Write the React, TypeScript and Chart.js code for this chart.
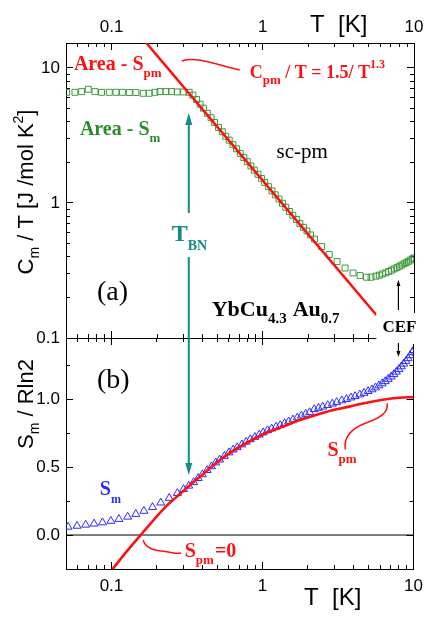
import React, { useEffect, useRef } from 'react';
import { Chart, registerables } from 'chart.js';

Chart.register(...registerables);

const SANS = '"Liberation Sans", Arial, sans-serif';
const SERIF = '"Liberation Serif", "Times New Roman", serif';
const RED = '#ff1010';
const GREEN = '#3c9a3c';
const GREEN_TEXT = '#2c8c2c';
const BLUE = '#2a2aff';
const TEAL = '#12898b';

const T_MIN = 0.05;
const T_MAX = 10;
const C_MIN = 0.1;
const C_MAX = 15.3;
const S_MIN = -0.25;
const S_MAX = 1.45;

// tick values / labels
const tempMajorTicks = [0.1, 1, 10];
const tempMajorLabels = ['0.1', '1', '10'];
const tempMinorTicks = [0.05, 0.06, 0.07, 0.08, 0.09, 0.2, 0.3, 0.4, 0.5, 0.6, 0.7, 0.8, 0.9, 2, 3, 4, 5, 6, 7, 8, 9];
const cMajorTicks = [0.1, 1, 10];
const cMajorLabels = ['0.1', '1', '10'];
const cMinorTicks = [0.2, 0.3, 0.4, 0.5, 0.6, 0.7, 0.8, 0.9, 2, 3, 4, 5, 6, 7, 8, 9];
const sMajorTicks = [0, 0.5, 1];
const sMajorLabels = ['0.0', '0.5', '1.0'];
const sMinorTicks = [-0.25, 0.25, 0.75, 1.25];

// panel (a): Cm/T (green squares)
const plateauT = [0.0505, 0.0573, 0.0634, 0.0702, 0.0777, 0.086, 0.0966, 0.107, 0.118, 0.131, 0.145, 0.162, 0.1775, 0.1936, 0.209, 0.229, 0.2495, 0.2718, 0.2978, 0.326];
const plateauC = [6.6, 6.6, 6.68, 6.95, 6.68, 6.6, 6.6, 6.6, 6.6, 6.57, 6.57, 6.49, 6.49, 6.6, 6.68, 6.68, 6.68, 6.64, 6.64, 6.6];
const slopeT = [0.345, 0.365, 0.385, 0.405, 0.43, 0.455, 0.48, 0.51, 0.54, 0.57, 0.6, 0.635, 0.67, 0.71, 0.75, 0.79, 0.835, 0.88, 0.93, 0.98, 1.03, 1.09, 1.15, 1.21, 1.28, 1.35, 1.42, 1.5, 1.58, 1.67, 1.76, 1.86, 1.96, 2.07];
const slopeC = [6.29, 5.84, 5.39, 5.04, 4.61, 4.28, 3.95, 3.62, 3.37, 3.12, 2.92, 2.7, 2.52, 2.33, 2.17, 2.02, 1.88, 1.75, 1.63, 1.52, 1.42, 1.32, 1.23, 1.15, 1.07, 0.995, 0.93, 0.865, 0.81, 0.755, 0.705, 0.66, 0.62, 0.58];
const tailT = [2.2, 2.45, 2.75, 3.1, 3.5, 3.95, 4.4, 4.85, 5.2, 5.6, 5.9, 6.2, 6.5, 6.8, 7.1, 7.4, 7.7, 8.0, 8.3, 8.6, 8.9, 9.2, 9.5, 9.8, 10.0];
const tailC = [0.54, 0.475, 0.415, 0.368, 0.33, 0.303, 0.29, 0.282, 0.282, 0.287, 0.292, 0.298, 0.304, 0.311, 0.318, 0.325, 0.332, 0.34, 0.347, 0.355, 0.362, 0.37, 0.378, 0.386, 0.392];
// power-law fit line Cpm/T (end points)
const fitT = [0.17, 5.64];
const fitC = [15.3, 0.148];

// panel (b): Sm/Rln2 (blue triangles)
const smLowT = [0.0516, 0.0592, 0.0675, 0.0767, 0.0872, 0.0991, 0.112, 0.128, 0.145, 0.164, 0.187, 0.212, 0.241, 0.273, 0.3, 0.325];
const smLowS = [0.06, 0.067, 0.075, 0.083, 0.092, 0.103, 0.117, 0.134, 0.154, 0.177, 0.205, 0.238, 0.272, 0.308, 0.337, 0.362];
const smMidT = [0.35, 0.375, 0.4, 0.43, 0.46, 0.49, 0.52, 0.56, 0.6, 0.64, 0.68, 0.73, 0.78, 0.83, 0.89, 0.95, 1.01, 1.08, 1.15, 1.23, 1.31, 1.4, 1.49, 1.59, 1.7, 1.81, 1.93, 2.05];
const smMidS = [0.388, 0.418, 0.446, 0.477, 0.505, 0.533, 0.554, 0.581, 0.607, 0.628, 0.645, 0.666, 0.686, 0.704, 0.721, 0.738, 0.754, 0.77, 0.783, 0.796, 0.808, 0.822, 0.835, 0.849, 0.864, 0.878, 0.891, 0.903];
const smHighT = [2.2, 2.35, 2.5, 2.7, 2.9, 3.1, 3.35, 3.6, 3.85, 4.1, 4.4, 4.7, 5.0, 5.3, 5.6, 5.9, 6.2, 6.5, 6.8, 7.1, 7.4, 7.7, 8.0, 8.3, 8.6, 8.9, 9.2, 9.5, 9.8, 10.0];
const smHighS = [0.925, 0.935, 0.944, 0.955, 0.966, 0.977, 0.99, 1.0, 1.011, 1.021, 1.033, 1.045, 1.058, 1.071, 1.085, 1.1, 1.115, 1.131, 1.148, 1.165, 1.183, 1.201, 1.22, 1.24, 1.26, 1.28, 1.3, 1.322, 1.344, 1.36];
// Spm/Rln2 (red curve)
const spmT = [0.1, 0.125, 0.156, 0.19, 0.229, 0.27, 0.322, 0.4, 0.491, 0.63, 0.816, 1.05, 1.36, 1.75, 2.26, 2.9, 3.76, 4.8, 6.24, 8.0, 10];
const spmS = [-0.262, -0.126, 0.0, 0.11, 0.209, 0.281, 0.356, 0.444, 0.528, 0.615, 0.688, 0.751, 0.798, 0.844, 0.884, 0.918, 0.945, 0.972, 0.995, 1.01, 1.015];
const zeroT = [0.05, 10];
const zeroS = [0, 0];

type Seg = { t: string; size: number; dy?: number; dx?: number; bold?: boolean };

function segFont(s: Seg, family: string, bold: boolean) {
  const b = s.bold === undefined ? bold : s.bold;
  return `${b ? 'bold ' : ''}${s.size}px ${family}`;
}
function richWidth(ctx: CanvasRenderingContext2D, segs: Seg[], family: string, bold: boolean) {
  let w = 0;
  for (const s of segs) {
    ctx.font = segFont(s, family, bold);
    w += (s.dx || 0) + ctx.measureText(s.t).width;
  }
  return w;
}
function drawRich(ctx: CanvasRenderingContext2D, x: number, y: number, segs: Seg[], family: string, bold: boolean, color: string) {
  ctx.save();
  ctx.fillStyle = color;
  ctx.textAlign = 'left';
  ctx.textBaseline = 'alphabetic';
  let cx = x;
  for (const s of segs) {
    ctx.font = segFont(s, family, bold);
    cx += s.dx || 0;
    ctx.fillText(s.t, cx, y + (s.dy || 0));
    cx += ctx.measureText(s.t).width;
  }
  ctx.restore();
}
function drawRotated(ctx: CanvasRenderingContext2D, bx: number, cy: number, segs: Seg[], family: string, bold: boolean, color: string) {
  ctx.save();
  ctx.translate(bx, cy);
  ctx.rotate(-Math.PI / 2);
  const w = richWidth(ctx, segs, family, bold);
  drawRich(ctx, -w / 2, 0, segs, family, bold, color);
  ctx.restore();
}
function vArrow(ctx: CanvasRenderingContext2D, x: number, yFrom: number, yTo: number, color: string, lw: number, headL: number, headW: number) {
  const dir = Math.sign(yTo - yFrom);
  ctx.save();
  ctx.strokeStyle = color;
  ctx.fillStyle = color;
  ctx.lineWidth = lw;
  ctx.beginPath();
  ctx.moveTo(x, yFrom);
  ctx.lineTo(x, yTo - dir * headL * 0.7);
  ctx.stroke();
  ctx.beginPath();
  ctx.moveTo(x, yTo);
  ctx.lineTo(x - headW / 2, yTo - dir * headL);
  ctx.lineTo(x + headW / 2, yTo - dir * headL);
  ctx.closePath();
  ctx.fill();
  ctx.restore();
}

function makeAxis(type: string, position: string, min: number, max: number, ticks: number[], labels: string[] | null, len: number, border: boolean, size: number, pad = 0) {
  return {
    type,
    position,
    min,
    max,
    bounds: 'data',
    weight: labels ? 1 : 0,
    afterBuildTicks: (s: any) => {
      s.ticks = ticks.map((v) => ({ value: v }));
    },
    afterFit: (s: any) => {
      if (position === 'top' || position === 'bottom') s.height = size;
      else s.width = size;
    },
    ticks: {
      display: !!labels,
      autoSkip: false,
      maxRotation: 0,
      minRotation: 0,
      padding: pad,
      color: '#000',
      font: { family: SANS, size: 17 },
      callback: (_v: any, i: number) => (labels ? labels[i] : ''),
    },
    grid: {
      display: true,
      drawOnChartArea: false,
      drawTicks: true,
      tickLength: -len,
      color: '#000',
      tickColor: '#000',
      tickWidth: 1,
      lineWidth: 1,
    },
    border: { display: border, color: '#000', width: 1 },
  };
}

const pts = (xs: number[], ys: number[]) => xs.map((x, i) => ({ x, y: ys[i] }));

export default function App() {
  const topCanvas = useRef<HTMLCanvasElement>(null);
  const botCanvas = useRef<HTMLCanvasElement>(null);

  useEffect(() => {
    let topChart: any = null;
    const annot = {
      id: 'annot',
      afterDraw(chart: any) {
        if (!topChart) return;
        const ctx: CanvasRenderingContext2D = chart.ctx;
        const X = (t: number) => chart.scales.x.getPixelForValue(t);
        const YC = (c: number) => topChart.scales.y.getPixelForValue(c);
        const YS = (s: number) => chart.scales.y.getPixelForValue(s);

        // axis titles
        drawRich(ctx, 310, 32, [{ t: 'T  [K]', size: 24 }], SANS, false, '#000');
        drawRich(ctx, 304, 605, [{ t: 'T  [K]', size: 24 }], SANS, false, '#000');
        drawRotated(ctx, 33, 192, [
          { t: 'C', size: 22 }, { t: 'm', size: 14, dy: 6 }, { t: ' / T [J /mol K', size: 22 }, { t: '2', size: 14, dy: -10 }, { t: ']', size: 22 },
        ], SANS, false, '#000');
        drawRotated(ctx, 33, 404, [
          { t: 'S', size: 22 }, { t: 'm', size: 14, dy: 6 }, { t: ' / Rln2', size: 22 },
        ], SANS, false, '#000');

        // panel (a) annotations
        drawRich(ctx, X(0.0564), YC(9.666), [{ t: 'Area - S', size: 20 }, { t: 'pm', size: 13, dy: 7 }], SERIF, true, RED);
        drawRich(ctx, X(0.822), YC(8.43), [
          { t: 'C', size: 18 }, { t: 'pm', size: 13, dy: 6 }, { t: ' / T = 1.5/ T', size: 18 }, { t: '1.3', size: 12, dy: -10 },
        ], SERIF, true, RED);
        drawRich(ctx, X(0.0618), YC(3.19), [{ t: 'Area - S', size: 20 }, { t: 'm', size: 13, dy: 7 }], SERIF, true, GREEN_TEXT);
        drawRich(ctx, X(1.24), YC(2.154), [{ t: 'sc-pm', size: 21 }], SERIF, false, '#000');
        drawRich(ctx, X(0.2507), YC(0.523), [{ t: 'T', size: 24 }, { t: 'BN', size: 14, dy: 9 }], SERIF, true, TEAL);
        drawRich(ctx, X(0.0801), YC(0.191), [{ t: '(a)', size: 28 }], SERIF, false, '#000');
        drawRich(ctx, X(0.461), YC(0.1455), [
          { t: 'YbCu', size: 22 }, { t: '4.3', size: 15, dy: 7 }, { t: 'Au', size: 22, dx: 6 }, { t: '0.7', size: 15, dy: 7 },
        ], SERIF, true, '#000');

        // connectors
        ctx.save();
        ctx.strokeStyle = RED;
        ctx.lineWidth = 1.5;
        let sx = X(0.292), sy = YC(11.27);
        ctx.beginPath();
        ctx.moveTo(sx, sy);
        ctx.bezierCurveTo(sx + 14, sy - 5, sx + 36, sy + 4, sx + 58, sy + 9);
        ctx.stroke();
        sx = X(3.53); sy = YS(0.63);
        ctx.beginPath();
        ctx.moveTo(sx, sy);
        ctx.bezierCurveTo(sx - 2, sy - 14, sx + 8, sy - 22, sx + 22, sy - 27);
        ctx.bezierCurveTo(sx + 36, sy - 32, sx + 43, sy - 37, sx + 42, sy - 46);
        ctx.stroke();
        sx = X(0.162); sy = YS(-0.037);
        ctx.beginPath();
        ctx.moveTo(sx, sy);
        ctx.bezierCurveTo(sx + 2, sy + 7, sx + 8, sy + 10, sx + 18, sy + 11);
        ctx.bezierCurveTo(sx + 28, sy + 12, sx + 34, sy + 14, sx + 38, sy + 13);
        ctx.stroke();
        ctx.restore();

        // T_BN double arrow
        const xa = X(0.325);
        vArrow(ctx, xa, YC(0.843), YC(4.64), TEAL, 2, 12, 7);
        vArrow(ctx, xa, YC(0.398), YS(0.4415), TEAL, 2, 12, 7);

        // CEF label with white box
        const cx = X(6.22), cy = YC(0.1108);
        ctx.save();
        ctx.font = `bold 17px ${SERIF}`;
        const w = ctx.measureText('CEF').width;
        ctx.fillStyle = '#fff';
        ctx.fillRect(cx - 6, cy - 19, w + 12, 31);
        ctx.restore();
        drawRich(ctx, cx, cy, [{ t: 'CEF', size: 17 }], SERIF, true, '#000');
        const xc = X(7.94);
        vArrow(ctx, xc, YC(0.161), YC(0.269), '#000', 1.2, 6, 4);
        vArrow(ctx, xc, YS(1.413), YS(1.31), '#000', 1.2, 6, 4);

        // panel (b) annotations
        drawRich(ctx, X(0.0801), YS(1.082), [{ t: '(b)', size: 28 }], SERIF, false, '#000');
        drawRich(ctx, X(0.0838), YS(0.294), [{ t: 'S', size: 20 }, { t: 'm', size: 12, dy: 8 }], SERIF, true, BLUE);
        drawRich(ctx, X(2.69), YS(0.581), [{ t: 'S', size: 20 }, { t: 'pm', size: 13, dy: 7 }], SERIF, true, RED);
        drawRich(ctx, X(0.3055), YS(-0.162), [{ t: 'S', size: 20 }, { t: 'pm', size: 13, dy: 7 }, { t: '=0', size: 20, dx: 1 }], SERIF, true, RED);
      },
    };

    topChart = new Chart(topCanvas.current as HTMLCanvasElement, {
      type: 'scatter',
      data: {
        datasets: [
          { data: pts(fitT, fitC), showLine: true, borderColor: RED, borderWidth: 2.6, pointRadius: 0, order: 0 },
          {
            data: [...pts(plateauT, plateauC), ...pts(slopeT, slopeC), ...pts(tailT, tailC)],
            showLine: false,
            pointStyle: 'rect',
            pointRadius: 4.2,
            pointBorderColor: GREEN,
            pointBackgroundColor: 'rgba(0,0,0,0)',
            pointBorderWidth: 1,
            order: 1,
          },
        ],
      } as any,
      options: {
        responsive: false,
        animation: false,
        events: [],
        layout: { padding: { left: 0, top: 0, right: 23, bottom: 280 }, autoPadding: false },
        plugins: { legend: { display: false }, tooltip: { enabled: false } },
        scales: {
          x: makeAxis('logarithmic', 'bottom', T_MIN, T_MAX, tempMajorTicks, null, 7, true, 0),
          xMinor: makeAxis('logarithmic', 'bottom', T_MIN, T_MAX, tempMinorTicks, null, 4, false, 0),
          xTop: makeAxis('logarithmic', 'top', T_MIN, T_MAX, tempMajorTicks, tempMajorLabels, 7, true, 43, 12),
          xTopMinor: makeAxis('logarithmic', 'top', T_MIN, T_MAX, tempMinorTicks, null, 4, false, 0),
          y: makeAxis('logarithmic', 'left', C_MIN, C_MAX, cMajorTicks, cMajorLabels, 7, true, 66, 13),
          yMinor: makeAxis('logarithmic', 'left', C_MIN, C_MAX, cMinorTicks, null, 4, false, 0),
          yRight: makeAxis('logarithmic', 'right', C_MIN, C_MAX, cMajorTicks, null, 7, true, 0),
          yRightMinor: makeAxis('logarithmic', 'right', C_MIN, C_MAX, cMinorTicks, null, 4, false, 0),
        },
      } as any,
    });

    const botChart = new Chart(botCanvas.current as HTMLCanvasElement, {
      type: 'scatter',
      data: {
        datasets: [
          { data: pts(spmT, spmS), showLine: true, borderColor: RED, borderWidth: 2.6, pointRadius: 0, cubicInterpolationMode: 'monotone', order: 0 },
          {
            data: [...pts(smLowT, smLowS), ...pts(smMidT, smMidS), ...pts(smHighT, smHighS)],
            showLine: false,
            pointStyle: 'triangle',
            pointRadius: 4.6,
            pointBorderColor: BLUE,
            pointBackgroundColor: 'rgba(0,0,0,0)',
            pointBorderWidth: 1,
            order: 1,
          },
          { data: pts(zeroT, zeroS), showLine: true, borderColor: '#000', borderWidth: 1, pointRadius: 0, order: 2 },
        ],
      } as any,
      options: {
        responsive: false,
        animation: false,
        events: [],
        layout: { padding: { left: 0, top: 338, right: 23, bottom: 0 }, autoPadding: false },
        plugins: { legend: { display: false }, tooltip: { enabled: false } },
        scales: {
          x: makeAxis('logarithmic', 'bottom', T_MIN, T_MAX, tempMajorTicks, tempMajorLabels, 7, true, 49, 14),
          xMinor: makeAxis('logarithmic', 'bottom', T_MIN, T_MAX, tempMinorTicks, null, 4, false, 0),
          xTop: makeAxis('logarithmic', 'top', T_MIN, T_MAX, tempMajorTicks, null, 7, true, 0),
          xTopMinor: makeAxis('logarithmic', 'top', T_MIN, T_MAX, tempMinorTicks, null, 4, false, 0),
          y: makeAxis('linear', 'left', S_MIN, S_MAX, sMajorTicks, sMajorLabels, 7, true, 66, 13),
          yMinor: makeAxis('linear', 'left', S_MIN, S_MAX, sMinorTicks, null, 4, false, 0),
          yRight: makeAxis('linear', 'right', S_MIN, S_MAX, sMajorTicks, null, 7, true, 0),
          yRightMinor: makeAxis('linear', 'right', S_MIN, S_MAX, sMinorTicks, null, 4, false, 0),
        },
      } as any,
      plugins: [annot],
    });

    return () => {
      botChart.destroy();
      topChart.destroy();
    };
  }, []);

  return (
    <div style={{ position: 'fixed', left: 0, top: 0, width: 437, height: 618, background: '#fff' }}>
      <canvas ref={topCanvas} width={437} height={618} style={{ position: 'absolute', left: 0, top: 0, width: 437, height: 618 }} />
      <canvas ref={botCanvas} width={437} height={618} style={{ position: 'absolute', left: 0, top: 0, width: 437, height: 618 }} />
    </div>
  );
}
